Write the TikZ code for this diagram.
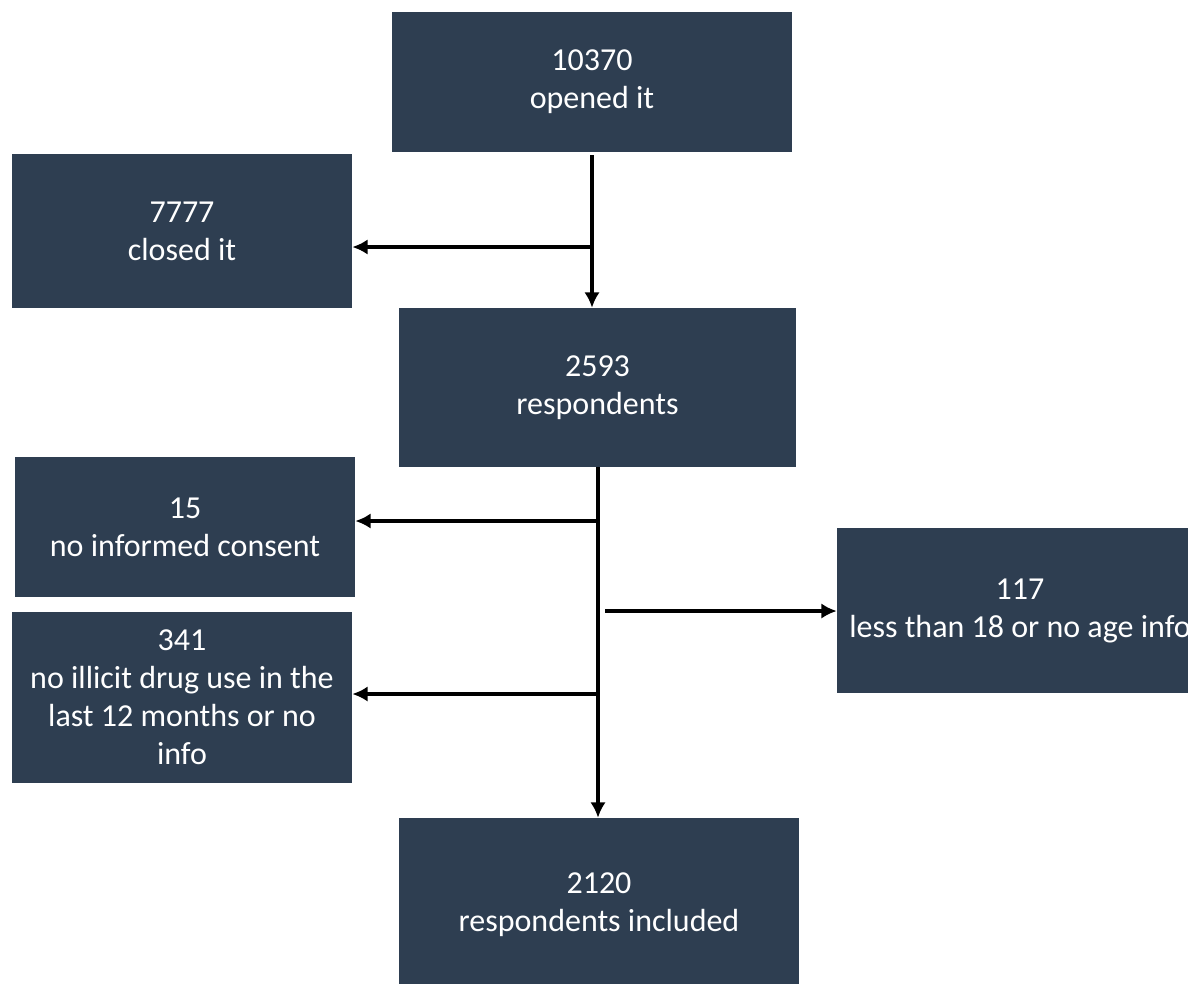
\documentclass[tikz,border=0pt]{standalone}
\usepackage{fontspec}
\setmainfont{Carlito}
\usetikzlibrary{shapes, arrows.meta, positioning}
\definecolor{slate}{RGB}{46,62,81}
\tikzstyle{block} = [fill=slate, rectangle, text=white, align=center, inner sep=0pt,
  font=\fontsize{24}{28.5}\selectfont]
\tikzstyle{flow} = [line width=3.2pt, -{Latex[length=11.5pt,width=11.5pt]}]

\begin{document}
\begin{tikzpicture}[x=0.75pt, y=-0.75pt]
  \useasboundingbox (0,0) rectangle (1188,983);
  \node[block, minimum width=300pt, minimum height=105pt] (open) at (592,82) {10370\\opened it};
  \node[block, minimum width=255pt, minimum height=115.5pt] (closed) at (182,231) {7777\\closed it};
  \node[block, minimum width=297.75pt, minimum height=119.25pt] (resp) at (597.5,387.5) {2593\\respondents};
  \node[block, minimum width=255pt, minimum height=105pt] (consent) at (185,527) {15\\no informed consent};
  \node[block, minimum width=255pt, minimum height=128.25pt] (drug) at (182,697.5) {341\\no illicit drug use in the\\last 12 months or no\\info};
  \node[block, minimum width=274.5pt, minimum height=123.75pt] (age) at (1020,610.5) {117\\less than 18 or no age info};
  \node[block, minimum width=300pt, minimum height=130.5pt] (incl) at (599,905) {2120\\respondents included};
  % branch points
  \coordinate (top) at (592,155);
  \coordinate (b1) at (592,247);
  \coordinate (low) at (598,467);
  \coordinate (b2) at (598,521);
  \coordinate (b3) at (605,611);
  \coordinate (b4) at (598,694);
  \draw[flow] (top) -- (top |- resp.north);
  \draw[flow] (b1) -- (b1 -| closed.east);
  \draw[flow] (low) -- (low |- incl.north);
  \draw[flow] (b2) -- (b2 -| consent.east);
  \draw[flow] (b3) -- (b3 -| age.west);
  \draw[flow] (b4) -- (b4 -| drug.east);
\end{tikzpicture}
\end{document}
